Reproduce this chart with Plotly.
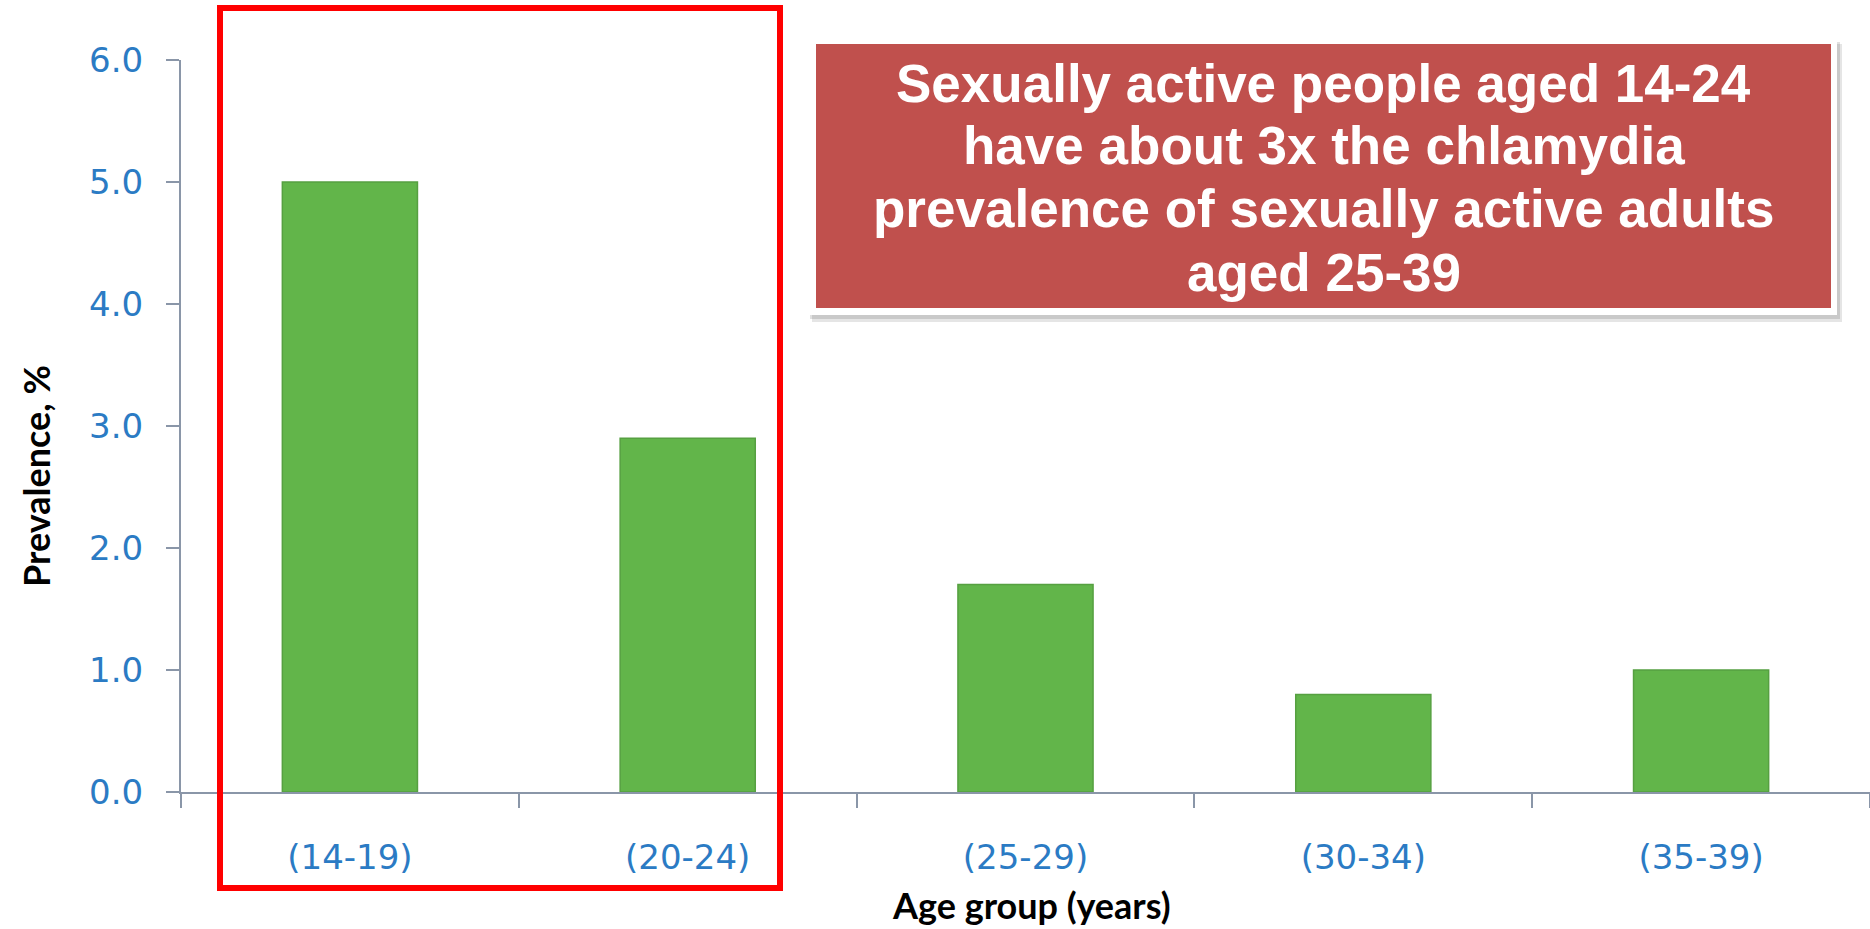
import plotly.graph_objects as go

age_groups = ["(14-19)", "(20-24)", "(25-29)", "(30-34)", "(35-39)"]
prevalence = [5.0, 2.9, 1.7, 0.8, 1.0]
y_ticks = [0, 1, 2, 3, 4, 5, 6]
callout_lines = [
    "Sexually active people aged 14-24",
    "have about 3x the chlamydia",
    "prevalence of sexually active adults",
    "aged 25-39",
]

AXIS = "#8A96A8"
TICKBLUE = "#2B7BC4"

fig = go.Figure()
fig.add_trace(go.Bar(
    x=age_groups, y=prevalence,
    marker=dict(color="#62B54A", line=dict(color="#56A041", width=1.5)),
    width=0.4,
    hoverinfo="x+y",
))

# plot area geometry (pixels) for paper conversions
W, H = 1870, 929
L, R, T, B = 181, 0, 60, 137
pw, ph = W - L - R, H - T - B

def px(x):
    return (x - L) / pw

def py(y):
    return (H - B - y) / ph

shapes = []
# callout box shadow
shapes.append(dict(type="rect", xref="paper", yref="paper",
                   x0=px(812), x1=px(1842), y0=py(322), y1=py(44),
                   fillcolor="rgba(0,0,0,0.10)", line=dict(width=0), layer="above"))
shapes.append(dict(type="rect", xref="paper", yref="paper",
                   x0=px(810), x1=px(1840), y0=py(319), y1=py(42),
                   fillcolor="rgba(0,0,0,0.12)", line=dict(width=0), layer="above"))
# white frame
shapes.append(dict(type="rect", xref="paper", yref="paper",
                   x0=px(808), x1=px(1837), y0=py(315), y1=py(39),
                   fillcolor="#FFFFFF", line=dict(width=0), layer="above"))
# red fill
shapes.append(dict(type="rect", xref="paper", yref="paper",
                   x0=px(816), x1=px(1831), y0=py(308), y1=py(44),
                   fillcolor="#C0504D", line=dict(width=0), layer="above"))
# red highlight rectangle around the first two groups
shapes.append(dict(type="rect", xref="paper", yref="paper",
                   x0=px(220), x1=px(780), y0=py(888), y1=py(8),
                   fillcolor="rgba(0,0,0,0)", line=dict(color="#FF0000", width=6),
                   layer="above"))

annotations = []
line_y = [83.5, 145.5, 208.7, 272]
for txt, yy in zip(callout_lines, line_y):
    annotations.append(dict(
        text=txt, xref="paper", yref="paper", x=px(1323.5), y=py(yy),
        xanchor="center", yanchor="middle", showarrow=False,
        font=dict(family="Liberation Sans, Arial, sans-serif", size=53, color="#FFFFFF",
                  weight="bold"),
    ))
# axis titles
annotations.append(dict(
    text="<b>Prevalence, %</b>", xref="paper", yref="paper",
    x=px(36), y=py(476), xanchor="center", yanchor="middle", textangle=-90,
    showarrow=False, font=dict(family="Lato, sans-serif", size=36, color="#000000"),
))
annotations.append(dict(
    text="<b>Age group (years)</b>", xref="paper", yref="paper",
    x=px(1031), y=py(905), xanchor="center", yanchor="middle",
    showarrow=False, font=dict(family="Lato, sans-serif", size=36, color="#000000"),
))

fig.update_layout(
    width=W, height=H,
    margin=dict(l=L, r=R, t=T, b=B, pad=0),
    paper_bgcolor="#FFFFFF", plot_bgcolor="#FFFFFF",
    showlegend=False,
    bargap=0.6,
    shapes=shapes,
    annotations=annotations,
    xaxis=dict(
        type="category", categoryorder="array", categoryarray=age_groups,
        range=[-0.5, 4.5],
        showline=True, linecolor=AXIS, linewidth=2,
        ticks="outside", tickson="boundaries", ticklen=14, tickwidth=1.5, tickcolor=AXIS,
        showgrid=False, zeroline=False,
        tickfont=dict(family="DejaVu Sans, sans-serif", size=34, color=TICKBLUE),
        ticklabelstandoff=34,
    ),
    yaxis=dict(
        range=[0, 6], tickvals=y_ticks, tickformat=".1f",
        showline=True, linecolor=AXIS, linewidth=2,
        ticks="outside", ticklen=13, tickwidth=2, tickcolor=AXIS,
        showgrid=False, zeroline=False,
        tickfont=dict(family="DejaVu Sans, sans-serif", size=34, color=TICKBLUE),
        ticklabelstandoff=16,
    ),
)

fig.write_html(
    "out.html",
    config={"displayModeBar": False},
    post_script="document.body.style.margin='0';document.body.style.overflow='hidden';",
)
